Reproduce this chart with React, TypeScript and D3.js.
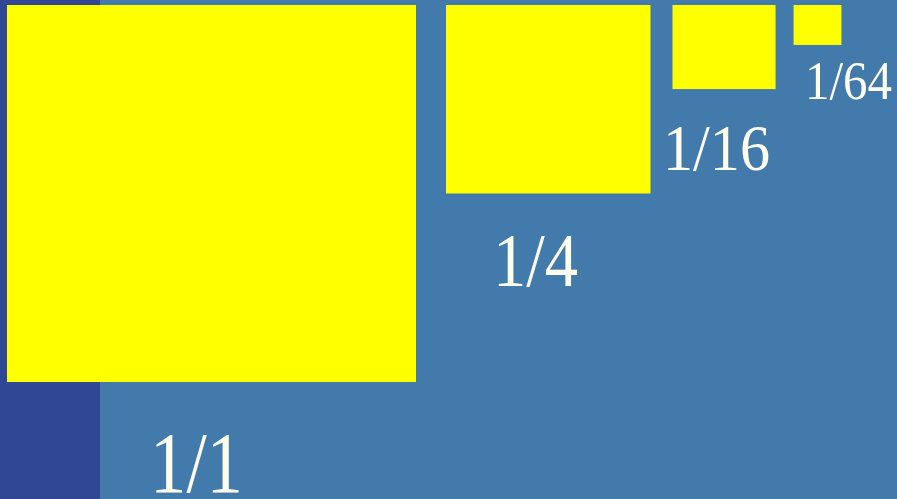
import React from "react";
import * as d3 from "d3";

// Data: fractions of the full square's area, and labels
const labels = ["1/1", "1/4", "1/16", "1/64"];
const areaValues = [1, 1 / 4, 1 / 16, 1 / 64];
// Relative side lengths as drawn in the picture (width, height)
const widthRatios = [1, 0.5, 0.252, 0.117];
const heightRatios = [1, 0.5, 0.223, 0.106];

const W = 897;
const H = 499;

export default function App() {
  const wScale = d3.scaleLinear().domain([0, 1]).range([0, 409]);
  const hScale = d3.scaleLinear().domain([0, 1]).range([0, 377]);
  const gaps = [0, 30, 22, 18];
  let cx = 7;
  const boxes = areaValues.map((v, i) => {
    const w = wScale(widthRatios[i]);
    const h = hScale(heightRatios[i]);
    const x = cx + gaps[i];
    cx = x + w;
    return { x, y: 5, w, h, label: labels[i], v };
  });
  // label layout: left x, baseline, font size, text width
  const labelLayout = [
    { x: 150, y: 492, fs: 86, tw: 93 },
    { x: 493, y: 286, fs: 76, tw: 85 },
    { x: 663, y: 170, fs: 65, tw: 107 },
    { x: 805, y: 99, fs: 54, tw: 87 },
  ];
  return (
    <svg
      width={W}
      height={H}
      style={{ position: "absolute", left: 0, top: 0, display: "block" }}
    >
      <rect x={0} y={0} width={W} height={H} fill="#427BAB" />
      <rect x={0} y={0} width={100} height={H} fill="#2F4795" />
      {boxes.map((b, i) => (
        <rect key={i} x={b.x} y={b.y} width={b.w} height={b.h} fill="#FFFF00" />
      ))}
      {boxes.map((b, i) => (
        <text
          key={"t" + i}
          x={labelLayout[i].x}
          y={labelLayout[i].y}
          textLength={labelLayout[i].tw}
          lengthAdjust="spacingAndGlyphs"
          fontFamily="'Liberation Serif', 'Times New Roman', serif"
          fontSize={labelLayout[i].fs}
          fill="#FFFDEB"
        >
          {b.label}
        </text>
      ))}
    </svg>
  );
}
